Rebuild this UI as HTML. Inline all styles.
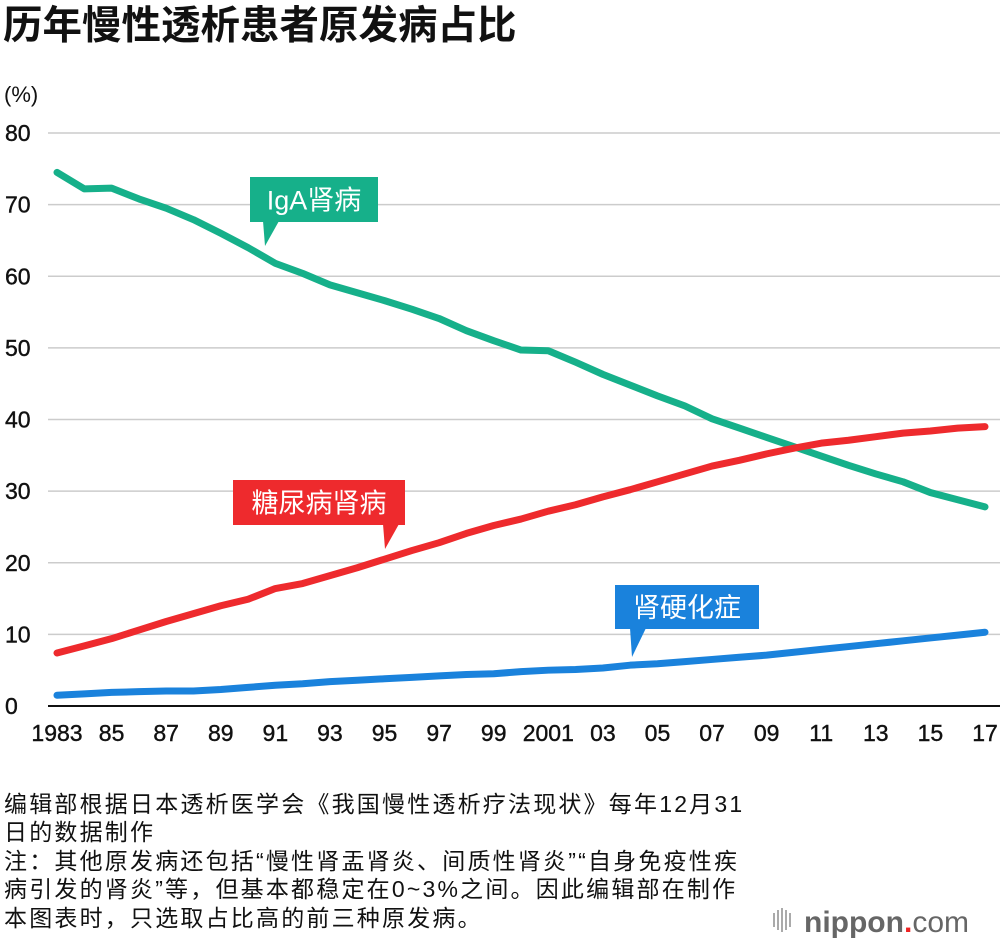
<!DOCTYPE html>
<html><head><meta charset="utf-8"><style>
body{margin:0;background:#fff;width:1000px;height:946px;overflow:hidden;font-family:"Liberation Sans","Noto Sans CJK SC",sans-serif;}
svg text{font-family:"Liberation Sans","Noto Sans CJK SC",sans-serif;}
</style></head><body>
<svg id="c" width="1000" height="946">
<text x="3" y="39" font-size="39.5" font-weight="bold" fill="#111">历年慢性透析患者原发病占比</text>
<text x="4" y="102" font-size="22" fill="#111">(%)</text>
<g id="grid"></g><g id="lines"></g><g id="labels"></g>
<g font-size="23" fill="#111" letter-spacing="2.2">
<text x="4" y="812">编辑部根据日本透析医学会《我国慢性透析疗法现状》每年12月31</text>
<text x="4" y="840">日的数据制作</text>
<text x="4" y="869">注：其他原发病还包括“慢性肾盂肾炎、间质性肾炎”“自身免疫性疾</text>
<text x="4" y="897">病引发的肾炎”等，但基本都稳定在0~3%之间。因此编辑部在制作</text>
<text x="4" y="926">本图表时，只选取占比高的前三种原发病。</text>
</g>
<g>
<g fill="#aaa"><rect x="773" y="913" width="2" height="14"/><rect x="777" y="910" width="2" height="20"/><rect x="781" y="908" width="2" height="24"/><rect x="785" y="910" width="2" height="20"/><rect x="789" y="913" width="2" height="14"/></g>
<text x="804" y="932" font-size="30" font-weight="bold" fill="#666">nippon<tspan fill="#e22" font-weight="bold">.</tspan><tspan font-weight="normal">com</tspan></text>
</g>
</svg>
<script>
const years=[1983,1984,1985,1986,1987,1988,1989,1990,1991,1992,1993,1994,1995,1996,1997,1998,1999,2000,2001,2002,2003,2004,2005,2006,2007,2008,2009,2010,2011,2012,2013,2014,2015,2016,2017];
const igaValues=[74.5,72.2,72.3,70.8,69.5,67.9,66,64,61.8,60.4,58.8,57.7,56.6,55.4,54.1,52.4,51,49.7,49.6,48,46.3,44.8,43.3,41.9,40.1,38.8,37.5,36.2,34.9,33.6,32.4,31.3,29.8,28.8,27.8];
const diabetesValues=[7.4,8.4,9.4,10.6,11.8,12.9,14,14.9,16.4,17.1,18.2,19.3,20.5,21.7,22.8,24.1,25.2,26.1,27.2,28.1,29.2,30.2,31.3,32.4,33.5,34.3,35.2,36,36.7,37.1,37.6,38.1,38.4,38.8,39];
const sclerosisValues=[1.5,1.7,1.9,2.0,2.1,2.1,2.3,2.6,2.9,3.1,3.4,3.6,3.8,4.0,4.2,4.4,4.5,4.8,5.0,5.1,5.3,5.7,5.9,6.2,6.5,6.8,7.1,7.5,7.9,8.3,8.7,9.1,9.5,9.9,10.3];
const yTicks=[0,10,20,30,40,50,60,70,80];
const xTickYears=[1983,1985,1987,1989,1991,1993,1995,1997,1999,2001,2003,2005,2007,2009,2011,2013,2015,2017];
const xTickLabels=["1983","85","87","89","91","93","95","97","99","2001","03","05","07","09","11","13","15","17"];
const NS="http://www.w3.org/2000/svg";
const X=y=>57+(y-1983)*(985-57)/34;
const Y=v=>706-v*(706-133)/80;
function mk(t,a,p){const e=document.createElementNS(NS,t);for(const k in a)e.setAttribute(k,a[k]);p.appendChild(e);return e;}
const grid=document.getElementById('grid');
yTicks.forEach(v=>{
 const l=mk('line',{x1:48,x2:1000,y1:Y(v),y2:Y(v),stroke:v===0?'#111':'#ccc','stroke-width':v===0?2:1.5},grid);
 
 
 const t=mk('text',{x:5,y:Y(v)+8,'font-size':23,fill:'#111',stroke:'#111','stroke-width':0.4},grid);t.textContent=v;
 
 
});
xTickYears.forEach((yr,i)=>{
 const t=mk('text',{x:X(yr),y:741,'font-size':23,fill:'#111',stroke:'#111','stroke-width':0.4,'text-anchor':'middle'},grid);t.textContent=xTickLabels[i];
 
 
});
const lines=document.getElementById('lines');
[[igaValues,'#16b08a','iga-line'],[diabetesValues,'#ee2a2d','diabetes-line'],[sclerosisValues,'#1a82dc','sclerosis-line']].forEach(([vals,col,n])=>{
 const p=mk('polyline',{points:vals.map((v,i)=>X(years[i])+','+Y(v)).join(' '),fill:'none',stroke:col,'stroke-width':7,'stroke-linecap':'round','stroke-linejoin':'round'},lines);
 
 
});
const labels=document.getElementById('labels');
function callout(x,y,w,h,tx,ty,col,txt,n){
 const g=mk('g',{},labels);
 
 
 mk('rect',{x:x,y:y,width:w,height:h,fill:col},g);
 mk('polygon',{points:`${tx-2},${y+h-1} ${tx+14},${y+h-1} ${tx},${ty}`,fill:col},g);
 const t=mk('text',{x:x+w/2,y:y+h/2+10,'font-size':27,fill:'#fff','text-anchor':'middle'},g);t.textContent=txt;
}
callout(250,177,128,45,265,246,'#16b08a','IgA肾病','iga-label');
callout(233,480,172,45,385,549,'#ee2a2d','糖尿病肾病','diabetes-label');
callout(615,585,144,44,632,657,'#1a82dc','肾硬化症','sclerosis-label');
</script>
</body></html>
